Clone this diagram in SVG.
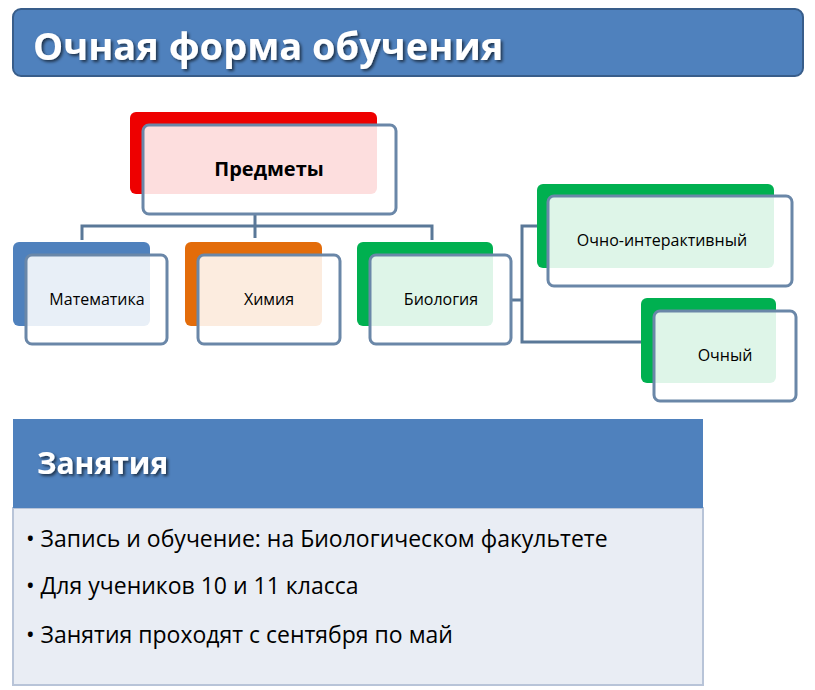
<svg xmlns="http://www.w3.org/2000/svg" width="815" height="690" viewBox="0 0 815 690">
<style>
.t{font-family:"Open Sans","Liberation Sans",sans-serif;fill:#000}
.fr{fill:#fff;fill-opacity:0.87;stroke:#6a87a8;stroke-width:3}
.c{fill:none;stroke:#5a7898;stroke-width:3}
</style>
<defs><filter id="sh"><feDropShadow dx="2" dy="2" stdDeviation="1.5" flood-color="#000" flood-opacity="0.6"/></filter></defs>
<rect width="815" height="690" fill="#fff"/>
<g id="title">
<rect x="13" y="9" width="790" height="67" rx="8" fill="#4f81bd" stroke="#385d8a" stroke-width="2"/>
<text x="33" y="60" font-family="'Open Sans','Liberation Sans',sans-serif" font-weight="bold" font-size="38" fill="#fff" filter="url(#sh)">Очная форма обучения</text>
</g>
<g id="connectors" class="c">
<path d="M255 214V238M82 240V226H432V240M511 300H522M537 226H522V342H641"/>
</g>
<g id="n0"><rect x="130" y="112" width="247" height="82" rx="6" fill="#e00"/><rect class="fr" x="143" y="125" width="253" height="89" rx="6"/><text class="t" x="269" y="176" text-anchor="middle" font-weight="bold" font-size="20">Предметы</text></g>
<g id="n1"><rect x="13" y="242" width="137" height="84" rx="6" fill="#4f81bd"/><rect class="fr" x="26" y="255" width="141" height="89" rx="6"/><text class="t" x="97" y="305" text-anchor="middle" font-size="16">Математика</text></g>
<g id="n2"><rect x="185" y="242" width="137" height="84" rx="6" fill="#e36c0a"/><rect class="fr" x="198" y="255" width="142" height="89" rx="6"/><text class="t" x="269" y="305" text-anchor="middle" font-size="16">Химия</text></g>
<g id="n3"><rect x="357" y="242" width="136" height="84" rx="6" fill="#00b050"/><rect class="fr" x="370" y="255" width="141" height="89" rx="6"/><text class="t" x="441" y="305" text-anchor="middle" font-size="16">Биология</text></g>
<g id="n4"><rect x="537" y="184" width="237" height="84" rx="6" fill="#00b050"/><rect class="fr" x="548" y="196" width="244" height="90" rx="6"/><text class="t" x="662" y="246" text-anchor="middle" font-size="16">Очно-интерактивный</text></g>
<g id="n5"><rect x="641" y="298" width="135" height="85" rx="6" fill="#00b050"/><rect class="fr" x="654" y="311" width="142" height="90" rx="6"/><text class="t" x="725" y="361" text-anchor="middle" font-size="16">Очный</text></g>
<g id="lessons">
<rect x="13" y="508" width="690" height="177" fill="#e9edf4" stroke="#b8c4d8" stroke-width="2"/>
<rect x="13" y="419" width="690" height="89" fill="#4f81bd"/>
<text x="37" y="474" font-family="'Open Sans','Liberation Sans',sans-serif" font-weight="bold" font-size="30" fill="#fff" filter="url(#sh)">Занятия</text>
<g class="t" font-size="23">
<text x="26" y="547">• Запись и обучение: на Биологическом факультете</text>
<text x="26" y="594">• Для учеников 10 и 11 класса</text>
<text x="26" y="643">• Занятия проходят с сентября по май</text>
</g>
</g>
</svg>
